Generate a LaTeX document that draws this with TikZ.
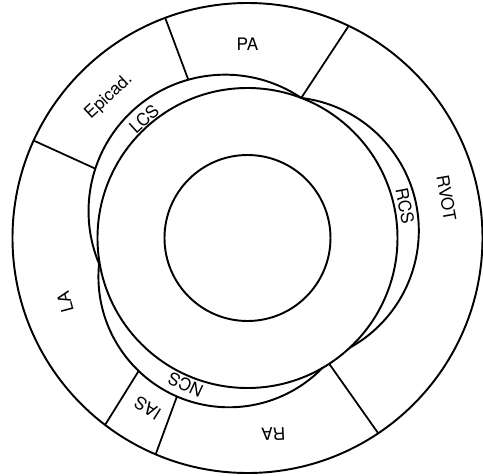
\documentclass[tikz,border=0pt]{standalone}
\usepackage{fontspec}
\setmainfont{TeX Gyre Heros}

\begin{document}
\begin{tikzpicture}[
  wall/.style={line width=1.1pt},
  cut/.style={line width=1pt},
  lbl/.style={font=\fontsize{9.8}{12}\selectfont, inner sep=0pt}]
  \useasboundingbox (-4.95,-4.76) rectangle (4.71,4.76);
  \coordinate (O) at (0,0);
  \draw[wall] (O) circle (4.7);
  \draw[wall] (O) circle (3.0);
  \draw[wall] (O) circle (1.66);
  \coordinate (LR) at (69:3);
  \coordinate (LN) at (191:3);
  \coordinate (NL) at (189:3);
  \coordinate (RN) at (-47:3);
  % sinuses
  \draw[wall] (LR) arc[start angle=56.05, end angle=203.9, radius=2.73];
  \draw[wall] (LR) arc[start angle=83.06, end angle=-61.06, radius=2.674];
  \draw[wall] (NL) arc[start angle=173.28, end angle=315.72, radius=2.611];
  \coordinate (EpiPAo) at (110.5:4.7);
  \coordinate (EpiPAi) at (110.5:3.38);
  \coordinate (PARVo) at (64.5:4.7);
  \coordinate (EpiLAo) at (155.5:4.7);
  \coordinate (EpiLAi) at (155.5:3.345);
  \coordinate (LAIASo) at (232.7:4.7);
  \coordinate (LAIASi) at (230.7:3.437);
  \coordinate (IASRAo) at (247:4.7);
  \coordinate (IASRAi) at (246:3.469);
  \coordinate (RARVo) at (-56.2:4.7);
  \coordinate (RARVi) at (-57:3);
  \draw[cut] (EpiPAo) -- (EpiPAi);
  \draw[cut] (PARVo) -- (LR);
  \draw[cut] (EpiLAo) -- (EpiLAi);
  \draw[cut] (LAIASo) -- (LAIASi);
  \draw[cut] (IASRAo) -- (IASRAi);
  \draw[cut] (RARVo) -- (RARVi);
  \node[lbl] (PA) at (0,3.88) {PA};
  \node[lbl, rotate=43] (Epi) at (-2.77,2.82) {Epicad.};
  \node[lbl, rotate=42] (LCS) at (-2.07,2.38) {LCS};
  \node[lbl, rotate=-80] (RVOT) at (3.98,0.8) {RVOT};
  \node[lbl, rotate=-79] (RCS) at (3.15,0.64) {RCS};
  \node[lbl, rotate=105] (LA) at (-3.65,-1.28) {LA};
  \node[lbl, rotate=155] (NCS) at (-1.24,-2.94) {NCS};
  \node[lbl, rotate=148] (IAS) at (-2.0,-3.4) {IAS};
  \node[lbl, rotate=183] (RA) at (0.52,-3.92) {RA};
\end{tikzpicture}
\end{document}
